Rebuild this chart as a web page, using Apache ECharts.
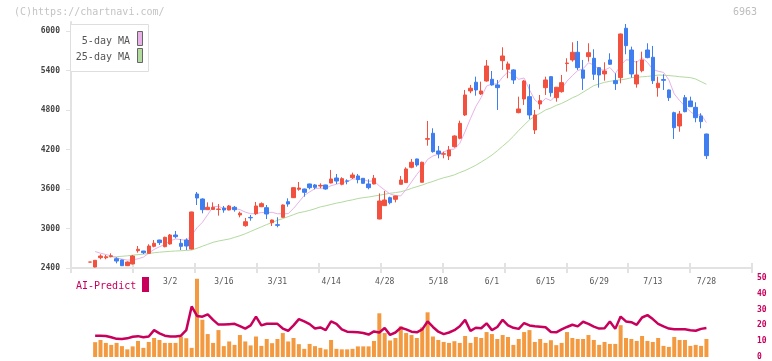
<!DOCTYPE html>
<html>
<head>
<meta charset="utf-8">
<script src="https://cdn.jsdelivr.net/npm/echarts@6/dist/echarts.min.js"></script>
<style>
  html, body { margin: 0; padding: 0; background: #fff; }
  #chart { width: 772px; height: 361px; }
</style>
</head>
<body>
<div id="chart"></div>
<script>
// date labels on the time axis, and the candle each one belongs to
const tickLabels = ["3/2", "3/16", "3/31", "4/14", "4/28", "5/18", "6/1", "6/15", "6/29", "7/13", "7/28"];
const tickLabelIndex = [15, 25, 35, 45, 55, 65, 75, 85, 95, 105, 115];
const priceTicks = [2400, 3000, 3600, 4200, 4800, 5400, 6000];

const open = [
  2490, 2415, 2557, 2555, 2575, 2541, 2522, 2435, 2461, 2663,
  2658, 2623, 2729, 2825, 2724, 2765, 2901, 2775, 2825, 2688,
  3524, 3448, 3286, 3290, 3290, 3311, 3281, 3322, 3205, 3043,
  3168, 3225, 3331, 3316, 3088, 3058, 3170, 3407, 3468, 3595,
  3600, 3676, 3661, 3645, 3661, 3691, 3767, 3671, 3723, 3772,
  3798, 3762, 3676, 3676, 3144, 3347, 3468, 3443, 3671, 3697,
  3929, 4056, 3702, 4355, 4446, 4177, 4128, 4101, 4243, 4370,
  4724, 5089, 5221, 5043, 5240, 5266, 5180, 5549, 5418, 5408,
  4759, 4967, 5002, 4496, 4891, 5139, 5306, 4987, 5078, 5505,
  5560, 5676, 5408, 5610, 5585, 5443, 5347, 5560, 5245, 5291,
  6041, 5711, 5195, 5397, 5711, 5600, 5139, 5262, 5104, 4759,
  4557, 4987, 4937, 4840, 4709, 4435
];
const close = [
  2490, 2517, 2582, 2570, 2585, 2506, 2435, 2491, 2582, 2684,
  2633, 2734, 2775, 2785, 2866, 2901, 2876, 2729, 2734, 3251,
  3463, 3286, 3322, 3322, 3295, 3281, 3342, 3286, 3231, 3103,
  3162, 3342, 3377, 3220, 3129, 3048, 3357, 3372, 3620, 3615,
  3549, 3620, 3625, 3655, 3600, 3752, 3721, 3757, 3719, 3813,
  3742, 3686, 3620, 3762, 3418, 3433, 3392, 3494, 3737, 3904,
  4006, 3965, 4006, 4365, 4167, 4132, 4136, 4192, 4405, 4597,
  5028, 5130, 5104, 5089, 5468, 5180, 5139, 5620, 5499, 5256,
  4815, 5240, 4724, 4724, 4941, 5256, 5063, 5145, 5215, 5513,
  5676, 5443, 5282, 5670, 5342, 5332, 5392, 5494, 5200, 5954,
  5777, 5347, 5332, 5560, 5595, 5245, 5206, 5250, 4987, 4531,
  4739, 4774, 4850, 4683, 4623, 4106
];
const low = [
  2488, 2410, 2532, 2532, 2562, 2471, 2430, 2430, 2455, 2633,
  2612, 2612, 2714, 2750, 2714, 2755, 2851, 2673, 2673, 2680,
  3357, 3231, 3281, 3284, 3195, 3240, 3276, 3256, 3170, 3027,
  3118, 3205, 3325, 3144, 3038, 3018, 3165, 3331, 3463, 3574,
  3483, 3595, 3595, 3610, 3590, 3686, 3676, 3656, 3671, 3752,
  3686, 3680, 3595, 3671, 3140, 3342, 3367, 3397, 3668, 3692,
  3914, 3939, 3697, 4258, 4152, 4066, 4066, 4040, 4228, 4355,
  4709, 5054, 5017, 5028, 5230, 5169, 4800, 5408, 5282, 5195,
  4750, 4876, 4659, 4435, 4810, 5028, 5002, 4926, 5063, 5382,
  5534, 5408, 5104, 5534, 5256, 5139, 5245, 5484, 5104, 5205,
  5646, 5291, 5139, 5372, 5585, 5195, 5002, 5104, 4937, 4360,
  4470, 4765, 4845, 4613, 4522, 4056
];
const high = [
  2492, 2520, 2608, 2598, 2623, 2562, 2527, 2500, 2597, 2734,
  2660, 2760, 2825, 2828, 2876, 2916, 2962, 2840, 2851, 3255,
  3554, 3458, 3397, 3397, 3372, 3342, 3357, 3342, 3256, 3160,
  3205, 3403, 3397, 3357, 3135, 3170, 3365, 3458, 3625, 3706,
  3605, 3680, 3676, 3686, 3665, 3889, 3828, 3778, 3747, 3848,
  3828, 3767, 3747, 3813, 3533, 3570, 3483, 3497, 3798, 3929,
  4056, 4060, 4015, 4633, 4522, 4253, 4167, 4253, 4415, 4637,
  5104, 5180, 5306, 5230, 5560, 5392, 5256, 5752, 5534, 5418,
  5002, 5256, 5190, 4800, 5028, 5306, 5310, 5150, 5332, 5585,
  5828, 5848, 5560, 5813, 5722, 5450, 5524, 5661, 5357, 5960,
  6106, 5762, 5544, 5686, 5813, 5772, 5306, 5342, 5110, 4774,
  4785, 5028, 5002, 4917, 4750, 4440
];
const ma5 = [
  null, 2650, 2625, 2605, 2585, 2555, 2536, 2520, 2522, 2540,
  2565, 2625, 2682, 2722, 2759, 2812, 2841, 2831, 2821, 2898,
  3011, 3093, 3211, 3329, 3338, 3301, 3312, 3305, 3287, 3249,
  3225, 3225, 3243, 3241, 3246, 3223, 3226, 3225, 3305, 3402,
  3503, 3555, 3606, 3613, 3610, 3650, 3671, 3697, 3710, 3752,
  3750, 3743, 3716, 3725, 3646, 3584, 3525, 3500, 3495, 3592,
  3707, 3821, 3924, 4049, 4102, 4127, 4161, 4198, 4206, 4292,
  4472, 4670, 4853, 4990, 5164, 5194, 5196, 5299, 5381, 5339,
  5266, 5286, 5107, 4952, 4889, 4977, 4942, 5026, 5124, 5238,
  5322, 5398, 5426, 5517, 5483, 5414, 5404, 5446, 5352, 5474,
  5563, 5554, 5522, 5594, 5522, 5416, 5388, 5371, 5257, 5044,
  4943, 4856, 4776, 4715, 4734, 4607
];
const ma25 = [
  null, null, null, 2565, 2568, 2572, 2578, 2585, 2595, 2603,
  2610, 2620, 2632, 2640, 2647, 2653, 2658, 2662, 2667, 2673,
  2700, 2730, 2760, 2790, 2810, 2825, 2840, 2865, 2890, 2920,
  2955, 2990, 3025, 3060, 3090, 3125, 3150, 3180, 3210, 3240,
  3255, 3275, 3300, 3328, 3345, 3365, 3385, 3400, 3420, 3435,
  3455, 3468, 3478, 3492, 3505, 3520, 3535, 3545, 3558, 3580,
  3610, 3635, 3660, 3690, 3715, 3745, 3770, 3790, 3815, 3850,
  3880, 3920, 3960, 4010, 4060, 4115, 4180, 4250, 4320, 4400,
  4490, 4570, 4650, 4705, 4750, 4800, 4830, 4870, 4900, 4940,
  4985, 5020, 5070, 5120, 5170, 5195, 5220, 5235, 5248, 5258,
  5270, 5290, 5298, 5304, 5310, 5318, 5330, 5328, 5322, 5315,
  5305, 5298, 5292, 5270, 5230, 5190
];
const volume = [
  null, 300, 345, 285, 245, 285, 220, 155, 215, 325,
  185, 305, 385, 345, 285, 285, 285, 415, 380, 185,
  1585, 755, 465, 285, 545, 220, 315, 245, 445, 315,
  235, 415, 225, 365, 280, 365, 485, 315, 385, 260,
  165, 265, 220, 185, 155, 345, 165, 155, 155, 165,
  215, 215, 215, 325, 885, 485, 335, 385, 620, 485,
  445, 385, 600, 905, 415, 345, 305, 285, 320, 285,
  425, 285, 405, 385, 505, 465, 365, 445, 405, 245,
  365, 505, 545, 305, 365, 285, 340, 240, 285, 505,
  385, 365, 365, 445, 345, 245, 305, 265, 265, 645,
  385, 365, 325, 425, 325, 305, 385, 225, 205, 405,
  345, 345, 225, 245, 225, 365
];
const aiPredict = [
  null, 13.5, 13.5, 13.3, 12.5, 11.5, 11.4, 11.8, 12.8, 13.2,
  12.5, 13, 17, 15, 13.5, 13, 13, 13.5, 17, 32,
  26, 25.5, 27, 23.5, 20.5, 20.5, 20.8, 21, 19.5, 18,
  20, 25.5, 20, 21, 21, 21, 18, 16.6, 20, 24,
  22.5, 20.8, 18, 18.7, 17, 22.5, 21, 17.5, 16, 15.8,
  15.6, 15.2, 14.2, 16.2, 15.5, 18.3, 14, 15.5, 18.5, 17.5,
  16, 15.6, 17.5, 22.5, 19, 16, 14.5, 15.5, 17, 19.5,
  23.5, 16.5, 18.5, 18.2, 21.3, 17, 19, 23.5, 20, 18.5,
  17.8, 21.5, 20, 19.4, 19.2, 18.8, 15.8, 15.6, 17.5, 19,
  20.4, 19.4, 22.3, 21, 19.2, 18, 18.2, 22.5, 17.8, 25.6,
  22.5, 22, 20.4, 25, 26.5, 24, 21, 19.4, 18, 17.5,
  17.5, 17.5, 17, 16.6, 17.8, 18.3
];

const padBefore = 3;
const padAfter = 8;
const total = padBefore + open.length + padAfter;
const categories = [];
for (let i = 0; i < total; i++) categories.push(String(i));
const labelAt = {};
tickLabels.forEach((t, j) => { labelAt[tickLabelIndex[j] + padBefore] = t; });

const candles = open.map((o, i) => [i + padBefore, o, close[i], low[i], high[i]]);
const pair = arr => arr.map((v, i) => [i + padBefore, v == null ? '-' : v]);

const RED = '#f2513f';
const BLUE = '#3f7ef0';
const AI = '#c8005c';
const MONO = 'DejaVu Sans Mono';

const chart = echarts.init(document.getElementById('chart'));
chart.setOption({
  animation: false,
  backgroundColor: '#fff',
  grid: [
    { left: 71, right: 20, top: 22, bottom: 93 },
    { left: 71, right: 20, top: 278, bottom: 3 }
  ],
  xAxis: [
    {
      type: 'category', gridIndex: 0, data: categories, boundaryGap: true,
      axisLine: { lineStyle: { color: '#e2e2e2', width: 2 } },
      axisTick: { show: false },
      axisLabel: {
        interval: idx => labelAt[idx] !== undefined,
        formatter: (v, idx) => labelAt[idx] || '',
        margin: 10, fontSize: 8, fontFamily: MONO, color: '#555'
      },
      splitLine: { show: false }
    },
    {
      type: 'value', gridIndex: 0, position: 'bottom', min: 0, max: 11, interval: 1,
      axisLine: { show: false },
      axisTick: { show: true, length: 5, lineStyle: { color: '#e2e2e2', width: 2 } },
      axisLabel: { show: false }, splitLine: { show: false }
    },
    {
      type: 'value', gridIndex: 0, position: 'bottom', min: 0, max: 11, interval: 1,
      axisLine: { show: false },
      axisTick: { show: true, inside: true, length: 5, lineStyle: { color: '#e2e2e2', width: 2 } },
      axisLabel: { show: false }, splitLine: { show: false }
    },
    {
      type: 'category', gridIndex: 1, data: categories, boundaryGap: true,
      show: false
    }
  ],
  yAxis: [
    {
      type: 'value', gridIndex: 0, position: 'left', min: 2400, max: 6136,
      axisLine: { show: true, lineStyle: { color: '#e2e2e2', width: 2 } },
      axisTick: { show: true, length: 5, customValues: priceTicks, lineStyle: { color: '#e2e2e2', width: 1 } },
      axisLabel: {
        customValues: priceTicks, formatter: v => String(v),
        margin: 11, fontSize: 8, fontWeight: 'bold', fontFamily: MONO, color: '#444'
      },
      splitLine: { show: false }
    },
    {
      type: 'value', gridIndex: 1, position: 'right', min: 0, max: 50, interval: 10,
      axisLine: { show: false }, axisTick: { show: false },
      axisLabel: { margin: 5, fontSize: 8, fontWeight: 'bold', fontFamily: MONO, color: AI },
      splitLine: { show: false }
    },
    {
      type: 'value', gridIndex: 1, position: 'left', min: 0, max: 1600, show: false,
      splitLine: { show: false }
    }
  ],
  series: [
    {
      name: '25-day MA', type: 'line', xAxisIndex: 0, yAxisIndex: 0, data: pair(ma25),
      symbol: 'none', lineStyle: { color: '#b3da9f', width: 1 }, itemStyle: { color: '#b3da9f' }, z: 2
    },
    {
      name: '5-day MA', type: 'line', xAxisIndex: 0, yAxisIndex: 0, data: pair(ma5),
      symbol: 'none', lineStyle: { color: '#e8b2e8', width: 1 }, itemStyle: { color: '#e8b2e8' }, z: 2
    },
    {
      name: 'price', type: 'candlestick', xAxisIndex: 0, yAxisIndex: 0,
      data: candles, encode: { x: 0, y: [1, 2, 3, 4] }, barWidth: 4,
      itemStyle: { color: RED, color0: BLUE, borderColor: RED, borderColor0: BLUE, borderWidth: 1 },
      z: 3
    },
    {
      name: 'volume', type: 'bar', xAxisIndex: 3, yAxisIndex: 2, data: pair(volume),
      barWidth: 4, itemStyle: { color: '#f39a40' }
    },
    {
      name: 'AI-Predict', type: 'line', xAxisIndex: 3, yAxisIndex: 1, data: pair(aiPredict),
      symbol: 'none', lineStyle: { color: AI, width: 2.5 }, itemStyle: { color: AI }, z: 4
    }
  ],
  graphic: [
    { type: 'text', left: 14, top: 7, style: { text: '(C)https://chartnavi.com/', font: '10px ' + MONO, fill: '#c4c4c4' } },
    { type: 'text', right: 15, top: 7, style: { text: '6963', font: '10px ' + MONO, fill: '#bdbdbd' } },
    { type: 'rect', shape: { x: 70.5, y: 24.5, width: 78, height: 47 }, style: { fill: '#fff', stroke: '#dedede', lineWidth: 1 }, z: 10 },
    { type: 'text', x: 130, y: 41, style: { text: '5-day MA', font: '10px ' + MONO, fill: '#555', align: 'right', verticalAlign: 'middle' }, z: 11 },
    { type: 'rect', shape: { x: 137.5, y: 31.5, width: 5, height: 14 }, style: { fill: '#e8b2e8', stroke: '#666', lineWidth: 1 }, z: 11 },
    { type: 'text', x: 130, y: 57.5, style: { text: '25-day MA', font: '10px ' + MONO, fill: '#555', align: 'right', verticalAlign: 'middle' }, z: 11 },
    { type: 'rect', shape: { x: 137.5, y: 48.5, width: 5, height: 14 }, style: { fill: '#b3da9f', stroke: '#666', lineWidth: 1 }, z: 11 },
    { type: 'text', x: 76, y: 286, style: { text: 'AI-Predict', font: '10px ' + MONO, fill: AI, verticalAlign: 'middle' }, z: 11 },
    { type: 'rect', shape: { x: 142, y: 277, width: 7, height: 15 }, style: { fill: AI }, z: 11 }
  ]
});
</script>
</body>
</html>
